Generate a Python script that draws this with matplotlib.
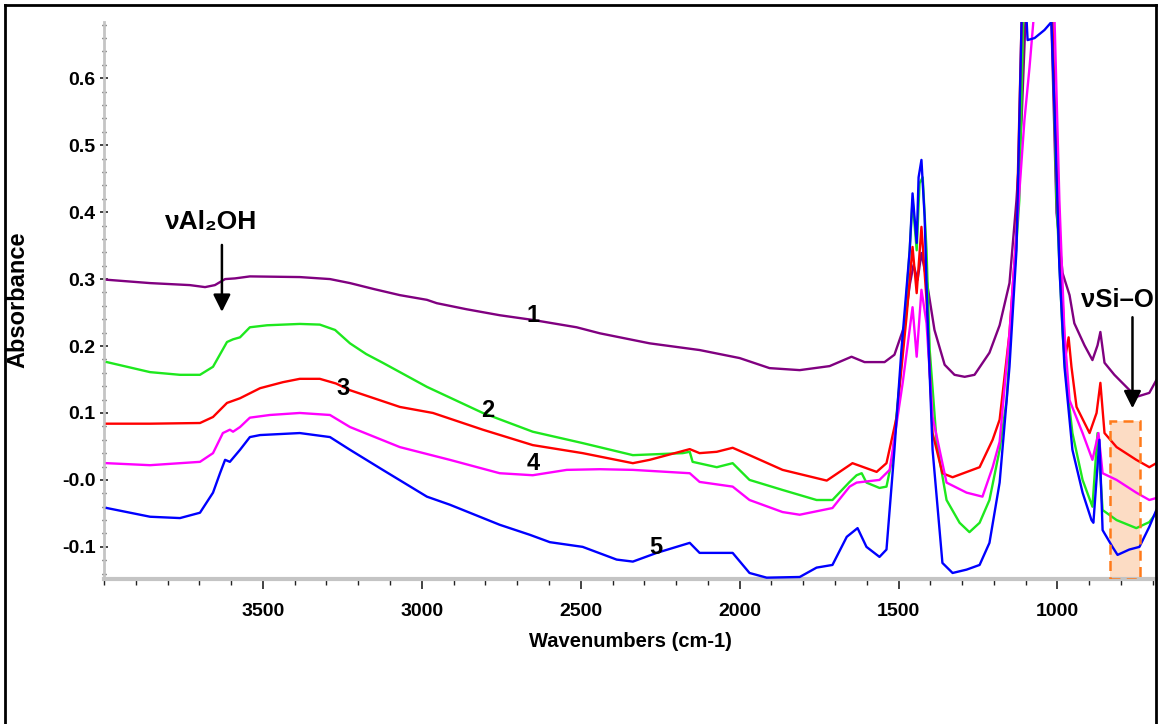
import matplotlib
matplotlib.use("Agg")
import matplotlib.pyplot as plt
from matplotlib.lines import Line2D
from matplotlib.patches import Rectangle
from matplotlib.ticker import MultipleLocator, FixedLocator, FixedFormatter

plt.rcParams['font.family'] = ['Liberation Sans', 'DejaVu Sans']
plt.rcParams['font.weight'] = 'bold'

# ---- spectra: wavenumber (cm-1) / absorbance ----
wn_1 = [3991, 3855, 3730, 3682, 3651, 3619, 3588, 3541, 3384, 3289, 3226, 3150, 3069, 2984,
        2953, 2860, 2755, 2651, 2513, 2440, 2283, 2126, 2000, 1906, 1811, 1717, 1648, 1607,
        1544, 1513, 1481, 1465, 1453, 1440, 1428, 1412, 1387, 1355, 1324, 1292, 1261, 1214,
        1182, 1151, 1129, 1113, 1101, 1082, 1031, 1019, 1003, 984, 962, 947, 915, 890, 874,
        865, 852, 821, 796, 752, 711, 689]
abs_1 = [0.299, 0.294, 0.291, 0.288, 0.291, 0.300, 0.301, 0.304, 0.303, 0.300, 0.294, 0.285,
         0.276, 0.269, 0.264, 0.255, 0.246, 0.239, 0.228, 0.219, 0.204, 0.194, 0.182, 0.167,
         0.164, 0.170, 0.184, 0.176, 0.176, 0.187, 0.231, 0.291, 0.321, 0.299, 0.339, 0.299,
         0.224, 0.172, 0.157, 0.154, 0.157, 0.190, 0.231, 0.294, 0.418, 0.537, 0.684, 0.80,
         0.80, 0.684, 0.399, 0.309, 0.276, 0.234, 0.201, 0.179, 0.201, 0.221, 0.175, 0.157,
         0.145, 0.124, 0.130, 0.149]

wn_2 = [3991, 3855, 3761, 3698, 3657, 3613, 3594, 3572, 3541, 3487, 3384, 3321, 3273, 3226,
        3175, 3123, 2984, 2808, 2651, 2494, 2336, 2179, 2157, 2148, 2072, 2022, 1969, 1865,
        1758, 1708, 1654, 1632, 1616, 1601, 1560, 1538, 1519, 1487, 1465, 1456, 1443, 1434,
        1424, 1412, 1402, 1380, 1349, 1308, 1277, 1245, 1214, 1182, 1160, 1141, 1120, 1108,
        1082, 1031, 1016, 1003, 984, 972, 953, 921, 890, 874, 858, 814, 752, 711, 689]
abs_2 = [0.176, 0.161, 0.157, 0.157, 0.169, 0.206, 0.210, 0.213, 0.228, 0.231, 0.233, 0.232,
         0.224, 0.204, 0.188, 0.175, 0.139, 0.100, 0.072, 0.055, 0.037, 0.040, 0.042, 0.027,
         0.019, 0.025, 0.000, -0.015, -0.030, -0.030, -0.003, 0.007, 0.010, -0.004, -0.012,
         -0.010, 0.034, 0.194, 0.343, 0.418, 0.343, 0.443, 0.452, 0.343, 0.194, 0.055,
         -0.030, -0.064, -0.078, -0.064, -0.030, 0.045, 0.119, 0.269, 0.418, 0.684, 0.80,
         0.80, 0.684, 0.418, 0.219, 0.149, 0.070, 0.000, -0.040, 0.070, -0.045, -0.060,
         -0.072, -0.063, -0.049]

wn_3 = [3991, 3855, 3698, 3657, 3613, 3572, 3509, 3437, 3384, 3321, 3270, 3226, 3069, 2965,
        2808, 2651, 2494, 2336, 2283, 2157, 2126, 2072, 2022, 1969, 1865, 1726, 1645, 1569,
        1538, 1506, 1475, 1456, 1443, 1428, 1412, 1393, 1362, 1330, 1245, 1204, 1182, 1151,
        1129, 1113, 1082, 1031, 1016, 1000, 984, 975, 965, 956, 940, 899, 877, 865, 852, 814,
        752, 711, 689]
abs_3 = [0.084, 0.084, 0.085, 0.094, 0.115, 0.122, 0.137, 0.146, 0.151, 0.151, 0.144, 0.134,
         0.109, 0.100, 0.075, 0.052, 0.040, 0.025, 0.030, 0.046, 0.040, 0.042, 0.048, 0.037,
         0.015, -0.001, 0.025, 0.012, 0.025, 0.094, 0.243, 0.348, 0.279, 0.378, 0.269, 0.070,
         0.010, 0.004, 0.019, 0.060, 0.090, 0.219, 0.369, 0.684, 0.80, 0.80, 0.684, 0.418,
         0.269, 0.184, 0.213, 0.169, 0.109, 0.070, 0.100, 0.145, 0.070, 0.049, 0.030, 0.019,
         0.025]

wn_4 = [3991, 3855, 3698, 3657, 3626, 3604, 3594, 3572, 3541, 3478, 3384, 3289, 3226, 3069,
        2912, 2755, 2651, 2544, 2440, 2336, 2157, 2126, 2022, 1969, 1865, 1811, 1708, 1654,
        1632, 1560, 1528, 1487, 1456, 1443, 1428, 1412, 1393, 1349, 1286, 1236, 1204, 1182,
        1151, 1129, 1104, 1088, 1076, 1060, 1031, 1009, 994, 978, 962, 921, 890, 871, 858,
        814, 752, 711, 689]
abs_4 = [0.025, 0.022, 0.027, 0.040, 0.070, 0.075, 0.072, 0.079, 0.093, 0.097, 0.100, 0.097,
         0.079, 0.049, 0.030, 0.010, 0.007, 0.015, 0.016, 0.015, 0.010, -0.003, -0.010,
         -0.030, -0.048, -0.052, -0.042, -0.010, -0.004, 0.000, 0.015, 0.145, 0.258, 0.184,
         0.284, 0.234, 0.094, -0.004, -0.019, -0.025, 0.019, 0.057, 0.219, 0.369, 0.537,
         0.616, 0.684, 0.80, 0.80, 0.684, 0.418, 0.219, 0.119, 0.070, 0.030, 0.070, 0.010,
         0.000, -0.019, -0.030, -0.027]

wn_5 = [3991, 3855, 3761, 3698, 3657, 3635, 3619, 3604, 3572, 3541, 3509, 3384, 3289, 3226,
        3123, 2984, 2912, 2755, 2660, 2597, 2494, 2387, 2336, 2261, 2157, 2126, 2022, 1969,
        1915, 1811, 1758, 1708, 1663, 1629, 1601, 1560, 1538, 1513, 1491, 1465, 1456, 1443,
        1437, 1428, 1418, 1409, 1393, 1362, 1330, 1286, 1245, 1214, 1182, 1151, 1129, 1113,
        1104, 1094, 1072, 1041, 1019, 1009, 994, 978, 953, 921, 893, 887, 868, 858, 827,
        811, 774, 742, 711, 689]
abs_5 = [-0.042, -0.055, -0.057, -0.049, -0.019, 0.010, 0.030, 0.027, 0.045, 0.064, 0.067,
         0.070, 0.064, 0.045, 0.015, -0.025, -0.037, -0.067, -0.082, -0.093, -0.100, -0.119,
         -0.122, -0.109, -0.094, -0.109, -0.109, -0.139, -0.146, -0.145, -0.131, -0.127,
         -0.085, -0.072, -0.100, -0.115, -0.104, 0.045, 0.194, 0.343, 0.428, 0.354, 0.452,
         0.478, 0.393, 0.243, 0.045, -0.124, -0.139, -0.134, -0.127, -0.094, -0.004, 0.169,
         0.343, 0.684, 0.75, 0.657, 0.660, 0.672, 0.684, 0.548, 0.318, 0.169, 0.045, -0.019,
         -0.060, -0.064, 0.060, -0.075, -0.100, -0.112, -0.104, -0.100, -0.070, -0.045]

series = [
    (wn_1, abs_1, '#800080'),
    (wn_2, abs_2, '#1ee81e'),
    (wn_3, abs_3, '#ff0000'),
    (wn_4, abs_4, '#ff00ff'),
    (wn_5, abs_5, '#0000ff'),
]

curve_labels = ['1', '2', '3', '4', '5']
label_wn = [2651, 2792, 3248, 2651, 2264]
label_abs = [0.246, 0.104, 0.137, 0.025, -0.101]

ytick_values = [-0.1, 0.0, 0.1, 0.2, 0.3, 0.4, 0.5, 0.6]
ytick_labels = ['-0.1', '-0.0', '0.1', '0.2', '0.3', '0.4', '0.5', '0.6']
xtick_values = [3500, 3000, 2500, 2000, 1500, 1000]

fig = plt.figure(figsize=(11.58, 7.24), dpi=100)
ax = fig.add_axes([104 / 1158, 145 / 724, (1156 - 104) / 1158, (579 - 22) / 724])

for wn, ab, col in series:
    ax.plot(wn, ab, color=col, lw=1.7, solid_joinstyle='round', zorder=3)

ax.set_xlim(4000, 690)
ax.set_ylim(-0.148, 0.684)

ax.xaxis.set_major_locator(FixedLocator(xtick_values))
ax.xaxis.set_minor_locator(MultipleLocator(100))
ax.yaxis.set_major_locator(FixedLocator(ytick_values))
ax.yaxis.set_major_formatter(FixedFormatter(ytick_labels))
ax.yaxis.set_minor_locator(MultipleLocator(0.02))

for s in ('top', 'right'):
    ax.spines[s].set_visible(False)
ax.spines['bottom'].set_color('#c4c4c4')
ax.spines['bottom'].set_linewidth(3)
ax.spines['left'].set_color('#c4c4c4')
ax.spines['left'].set_linewidth(2)

ax.tick_params(axis='x', which='major', direction='out', length=7, width=1.2,
               color='#222222', pad=10, labelsize=14)
ax.tick_params(axis='x', which='minor', direction='out', length=4, width=1.0, color='#222222')
ax.tick_params(axis='y', which='major', direction='inout', length=6, width=1.2,
               color='#222222', pad=3, labelsize=14)
ax.tick_params(axis='y', which='minor', direction='inout', length=3, width=1.0, color='#222222')
for lab in ax.get_xticklabels() + ax.get_yticklabels():
    lab.set_fontweight('bold')

ax.set_xlabel('Wavenumbers (cm-1)', fontsize=14.5, fontweight='bold', labelpad=9)
fig.text(18 / 1158, 1 - 300 / 724, 'Absorbance', rotation=90, ha='center', va='center',
         fontsize=17, fontweight='bold')

for txt, xw, ya in zip(curve_labels, label_wn, label_abs):
    ax.text(xw, ya, txt, ha='center', va='center', fontsize=17, fontweight='bold', zorder=5)

# band assignments
ax.text(3662, 0.385, 'νAl₂OH', ha='center', va='center', fontsize=19, fontweight='bold')
ax.annotate('', xy=(3629, 0.251), xytext=(3629, 0.351),
            arrowprops=dict(arrowstyle='-|>', color='black', lw=1.8,
                            mutation_scale=26, shrinkA=0, shrinkB=0))
ax.text(810, 0.269, 'νSi–O', ha='center', va='center', fontsize=18.5, fontweight='bold')
ax.annotate('', xy=(764, 0.107), xytext=(764, 0.243),
            arrowprops=dict(arrowstyle='-|>', color='black', lw=1.8,
                            mutation_scale=26, shrinkA=0, shrinkB=0))

# highlighted Si-O region
ax.add_patch(Rectangle((836, -0.148), 739 - 836, 0.088 + 0.148, facecolor='#fcdcc4',
                       edgecolor='none', zorder=1))
ax.add_patch(Rectangle((836, -0.148), 739 - 836, 0.088 + 0.148, facecolor='none',
                       edgecolor='#ff7a1a', lw=1.8, linestyle=(0, (4, 2.5)), zorder=4))

# outer frame
for xs, ys in [([5 / 1158, 5 / 1158], [0, 1 - 5 / 724]),
               ([5 / 1158, 1156 / 1158], [1 - 5 / 724, 1 - 5 / 724]),
               ([1156 / 1158, 1156 / 1158], [0, 1 - 5 / 724])]:
    fig.add_artist(Line2D(xs, ys, transform=fig.transFigure, color='black', lw=2))

fig.savefig('out.png', dpi=100)
